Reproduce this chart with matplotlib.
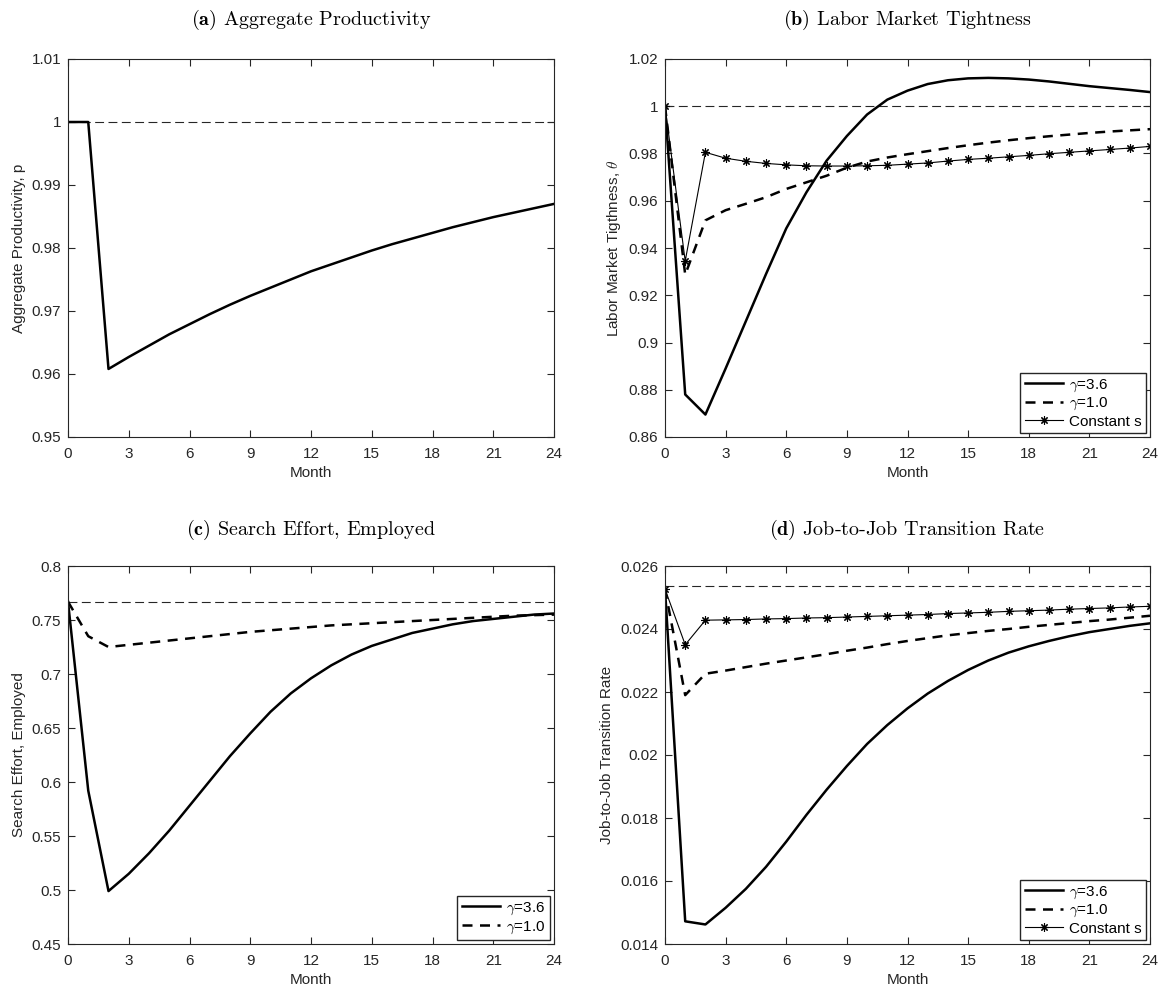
import numpy as np
import matplotlib
matplotlib.use('Agg')
import matplotlib.pyplot as plt
from matplotlib.ticker import FuncFormatter

plt.rcParams['font.family'] = ['Liberation Sans', 'DejaVu Sans']
plt.rcParams['mathtext.fontset'] = 'cm'

months = np.arange(0, 25)

# (a) aggregate productivity
prod = [1.0, 1.0, 0.9608, 0.9627, 0.9645, 0.9663, 0.9679, 0.9695, 0.9710, 0.9724,
        0.9737, 0.9750, 0.9763, 0.9774, 0.9785, 0.9796, 0.9806, 0.9815, 0.9824,
        0.9833, 0.9841, 0.9849, 0.9856, 0.9863, 0.9870]
prod_ss = 1.0

# (b) labor market tightness
theta_g36 = [1.0, 0.878, 0.8695, 0.889, 0.909, 0.929, 0.9483, 0.9636, 0.977, 0.9874,
             0.9965, 1.0028, 1.0066, 1.0094, 1.011, 1.0118, 1.012, 1.0118, 1.0113,
             1.0105, 1.0095, 1.0085, 1.0077, 1.0069, 1.006]
theta_g10 = [1.0, 0.9287, 0.9517, 0.956, 0.9587, 0.9615, 0.965, 0.9678, 0.9706, 0.974,
             0.9766, 0.9783, 0.9797, 0.981, 0.9823, 0.9835, 0.9846, 0.9856, 0.9865,
             0.9873, 0.988, 0.9887, 0.9893, 0.9898, 0.9903]
theta_cs = [1.0, 0.9345, 0.9805, 0.978, 0.9767, 0.9758, 0.9752, 0.9748, 0.9747, 0.9747,
            0.9748, 0.975, 0.9755, 0.976, 0.9768, 0.9775, 0.978, 0.9786, 0.9792,
            0.9799, 0.9805, 0.9811, 0.9817, 0.9823, 0.983]
theta_ss = 1.0

# (c) search effort, employed
search_g36 = [0.767, 0.592, 0.499, 0.515, 0.534, 0.555, 0.578, 0.601, 0.624, 0.645,
              0.665, 0.682, 0.696, 0.708, 0.718, 0.726, 0.732, 0.738, 0.742, 0.746,
              0.749, 0.751, 0.753, 0.755, 0.756]
search_g10 = [0.767, 0.735, 0.725, 0.727, 0.729, 0.731, 0.733, 0.735, 0.737, 0.739,
              0.7405, 0.742, 0.7435, 0.745, 0.746, 0.747, 0.748, 0.749, 0.750, 0.751,
              0.752, 0.753, 0.754, 0.7545, 0.755]
search_ss = 0.767

# (d) job-to-job transition rate
j2j_g36 = [0.02527, 0.01472, 0.01462, 0.01515, 0.01575, 0.01645, 0.01725, 0.01810,
           0.01890, 0.01965, 0.02035, 0.02095, 0.02148, 0.02195, 0.02235, 0.02270,
           0.02300, 0.02325, 0.02345, 0.02362, 0.02377, 0.02390, 0.02400, 0.02410, 0.02418]
j2j_g10 = [0.02527, 0.0219, 0.02258, 0.02268, 0.02279, 0.0229, 0.0230, 0.0231, 0.0232,
           0.02331, 0.02341, 0.02352, 0.02362, 0.02371, 0.0238, 0.02387, 0.02394, 0.0240,
           0.02407, 0.02413, 0.02419, 0.02425, 0.0243, 0.02436, 0.02442]
j2j_cs = [0.02527, 0.0235, 0.02428, 0.02429, 0.0243, 0.02432, 0.02433, 0.02435, 0.02436,
          0.02438, 0.0244, 0.02442, 0.02444, 0.02446, 0.02449, 0.02451, 0.02453, 0.02456,
          0.02458, 0.0246, 0.02463, 0.02465, 0.02467, 0.0247, 0.02472]
j2j_ss = 0.02535

titles = ['(a)', '(b)', '(c)', '(d)']
title_text = ['Aggregate Productivity', 'Labor Market Tightness',
              'Search Effort, Employed', 'Job-to-Job Transition Rate']
ylabels = ['Aggregate Productivity, p', r'Labor Market Tigthness, $\theta$',
           'Search Effort, Employed', 'Job-to-Job Transition Rate']
ylims = [(0.95, 1.01), (0.86, 1.02), (0.45, 0.8), (0.014, 0.026)]
ysteps = [0.01, 0.02, 0.05, 0.002]

fig = plt.figure(figsize=(11.62, 9.94), dpi=100)
W, H = 1162, 994
boxes = [(68, 59, 554, 437), (665, 59, 1150, 437),
         (68, 566, 554, 944), (665, 566, 1150, 944)]
axes = []
for (x0, y0, x1, y1) in boxes:
    axes.append(fig.add_axes([x0 / W, 1 - y1 / H, (x1 - x0) / W, (y1 - y0) / H]))

ink = '#262626'
lw_thick = 1.8
ast = (8, 2, 0)

ax = axes[0]
ax.plot(months, [prod_ss] * len(months), color=ink, lw=0.8, dashes=(8, 4))
ax.plot(months, prod, color='black', lw=lw_thick)

ax = axes[1]
ax.plot(months, [theta_ss] * len(months), color=ink, lw=0.8, dashes=(8, 4))
ax.plot(months, theta_g36, color='black', lw=lw_thick, label=r'$\gamma$=3.6')
ax.plot(months, theta_g10, color='black', lw=lw_thick, dashes=(4, 3), label=r'$\gamma$=1.0')
ax.plot(months, theta_cs, color='black', lw=0.8, marker=ast, ms=6, mew=0.8, label='Constant s')

ax = axes[2]
ax.plot(months, [search_ss] * len(months), color=ink, lw=0.8, dashes=(8, 4))
ax.plot(months, search_g36, color='black', lw=lw_thick, label=r'$\gamma$=3.6')
ax.plot(months, search_g10, color='black', lw=lw_thick, dashes=(4, 3), label=r'$\gamma$=1.0')

ax = axes[3]
ax.plot(months, [j2j_ss] * len(months), color=ink, lw=0.8, dashes=(8, 4))
ax.plot(months, j2j_g36, color='black', lw=lw_thick, label=r'$\gamma$=3.6')
ax.plot(months, j2j_g10, color='black', lw=lw_thick, dashes=(4, 3), label=r'$\gamma$=1.0')
ax.plot(months, j2j_cs, color='black', lw=0.8, marker=ast, ms=6, mew=0.8, label='Constant s')

for i, ax in enumerate(axes):
    ax.set_xlim(0, 24)
    ax.set_xticks(np.arange(0, 25, 3))
    lo, hi = ylims[i]
    ax.set_ylim(lo, hi)
    ax.set_yticks(np.arange(lo, hi + ysteps[i] / 2, ysteps[i]))
    ax.yaxis.set_major_formatter(FuncFormatter(lambda v, p: '%g' % round(v, 6)))
    ax.tick_params(direction='in', top=True, right=True, labelsize=11,
                   colors=ink, length=5, width=0.8)
    ax.tick_params(axis='x', pad=7)
    ax.tick_params(axis='y', pad=5)
    for s in ax.spines.values():
        s.set_color(ink)
        s.set_linewidth(0.8)
    ax.set_xlabel('Month', fontsize=11, color=ink, labelpad=4)
    ax.set_ylabel(ylabels[i], fontsize=11, color=ink)
    if i > 0:
        ax.legend(loc='lower right', fontsize=11, frameon=True, fancybox=False,
                  edgecolor=ink, framealpha=1, borderaxespad=0.25, handlelength=2.5,
                  borderpad=0.3, labelspacing=0.15, handletextpad=0.4)
    x0, y0, x1, y1 = boxes[i]
    ty = 20 if i < 2 else 530
    fig.text((x0 + x1) / 2 / W, 1 - ty / H,
             r'$\mathbf{' + titles[i] + '}$ ' + title_text[i],
             ha='center', va='center', fontsize=14.5, family='cmr10')

fig.savefig('out.png', dpi=100)
